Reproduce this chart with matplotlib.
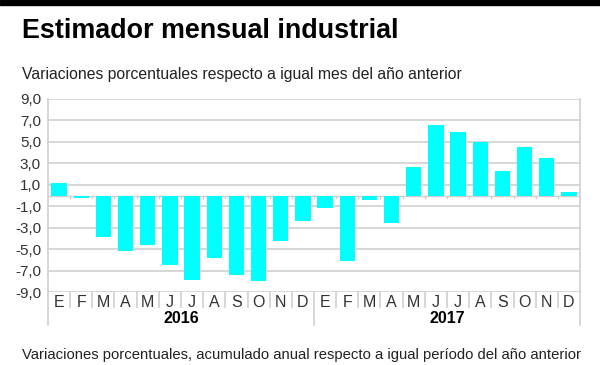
import matplotlib.pyplot as plt
from matplotlib.transforms import blended_transform_factory

# data
months = ["E", "F", "M", "A", "M", "J", "J", "A", "S", "O", "N", "D"]
years = ["2016", "2017"]
values_2016 = [1.2, -0.2, -3.9, -5.2, -4.6, -6.5, -7.9, -5.8, -7.4, -8.0, -4.2, -2.4]
values_2017 = [-1.2, -6.1, -0.4, -2.6, 2.7, 6.6, 5.9, 5.0, 2.3, 4.5, 3.5, 0.3]
y_ticks = [9, 7, 5, 3, 1, -1, -3, -5, -7, -9]

values = values_2016 + values_2017
labels = months * len(years)
x = list(range(len(values)))

plt.rcParams['font.family'] = ['Liberation Sans', 'DejaVu Sans']
grid_col = '#cfcfcf'

fig = plt.figure(figsize=(6, 3.65), dpi=100)
fig.patches.append(plt.Rectangle((0, 1 - 5 / 365), 1, 5 / 365, transform=fig.transFigure,
                                 color='black', zorder=0))

fig.text(22 / 600, 1 - 31 / 365, "Estimador mensual industrial", fontsize=19.4,
         fontweight='bold', va='center', ha='left')
fig.text(22 / 600, 1 - 75 / 365, "Variaciones porcentuales respecto a igual mes del año anterior",
         fontsize=11.3, va='center', ha='left', color='#222222')
fig.text(22 / 600, 1 - 355 / 365,
         "Variaciones porcentuales, acumulado anual respecto a igual período del año anterior",
         fontsize=10.7, va='center', ha='left', color='#222222')

ax = fig.add_axes([48 / 600, 1 - 292 / 365, 532 / 600, 193 / 365])
ax.bar(x, values, width=0.69, color='#00ffff', zorder=3)
ax.set_xlim(-0.5, len(values) - 0.5)
ax.set_ylim(-9, 9)
ax.set_yticks(y_ticks)
ax.set_yticklabels([f"{v:.1f}".replace('.', ',') for v in y_ticks], fontsize=11, color='#333333')
ax.grid(axis='y', color=grid_col, linewidth=1.2, zorder=0)
ax.tick_params(axis='y', length=0, pad=5)
ax.set_xticks([])
for s in ['top', 'bottom']:
    ax.spines[s].set_visible(False)
for s in ['left', 'right']:
    ax.spines[s].set_color(grid_col)
    ax.spines[s].set_linewidth(1.2)

# zero line with small ticks between categories
ax.axhline(0, color=grid_col, linewidth=1, zorder=2)
for b in x[1:]:
    ax.plot([b - 0.5, b - 0.5], [0, -0.25], color=grid_col, linewidth=1, zorder=2)

# category labels and separators below the plot
tr = blended_transform_factory(ax.transData, ax.transAxes)
for i, lab in enumerate(labels):
    ax.text(i, -0.052, lab, transform=tr, ha='center', va='center', fontsize=11.5,
            color='#333333')
for b in x[1:]:
    bottom = -0.17 if b % 12 == 0 else -0.08
    ax.plot([b - 0.5, b - 0.5], [0, bottom], transform=tr, color=grid_col,
            linewidth=1.2, clip_on=False)
for side in [-0.5, len(values) - 0.5]:
    ax.plot([side, side], [0, -0.17], transform=tr, color=grid_col, linewidth=1.2, clip_on=False)
for k, yr in enumerate(years):
    ax.text(k * 12 + 5.5, -0.135, yr, transform=tr, ha='center', va='center',
            fontsize=11.5, fontweight='bold')

fig.savefig("out.png", dpi=100)
